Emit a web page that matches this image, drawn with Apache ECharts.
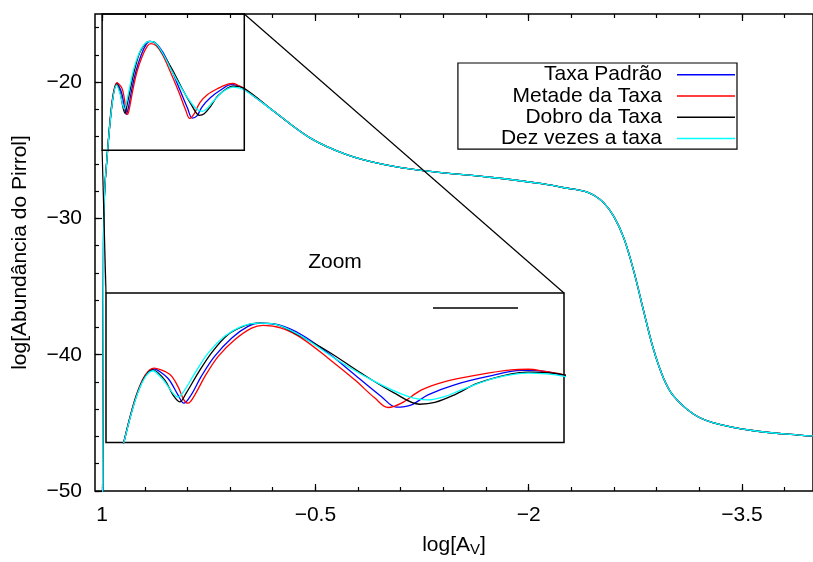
<!DOCTYPE html>
<html>
<head>
<meta charset="utf-8">
<script src="https://cdn.jsdelivr.net/npm/echarts@6/dist/echarts.min.js"></script>
<style>
  html, body { margin: 0; padding: 0; background: #fff; }
  #chart { width: 813px; height: 562px; }
</style>
</head>
<body>
<div id="chart"></div>
<script>
// Pyrrole abundance versus visual extinction, for four reaction-rate choices.
const seriesNames = ['Taxa Padrão', 'Metade da Taxa', 'Dobro da Taxa', 'Dez vezes a taxa'];

// Points are [log A_V, log abundance].
// Steep rise at the cloud edge, shared by all four runs.
const riseCommon = [[1.0, -75], [0.99, -32], [0.975, -26.8]];

// Oscillating region (0 <= log A_V <= 1), one array per run.
const padraoHead = [
  [0.895, -20.07], [0.865, -20.70], [0.843, -21.81], [0.830, -22.37], [0.814, -21.81],
  [0.792, -20.58], [0.763, -19.24], [0.726, -18.02], [0.690, -17.23], [0.664, -17.01],
  [0.624, -17.12], [0.573, -17.79], [0.515, -19.02], [0.457, -20.47], [0.399, -21.92],
  [0.366, -22.64], [0.333, -22.48], [0.297, -21.81], [0.239, -21.14], [0.166, -20.58],
  [0.093, -20.18], [0.042, -20.25], [0.0, -20.52]
];
const metadeHead = [
  [0.895, -20.03], [0.861, -20.43], [0.843, -21.25], [0.830, -22.15], [0.821, -22.37],
  [0.806, -21.81], [0.784, -20.58], [0.755, -19.24], [0.719, -18.13], [0.682, -17.35],
  [0.657, -17.17], [0.617, -17.35], [0.573, -18.02], [0.515, -19.36], [0.457, -20.81],
  [0.413, -22.03], [0.384, -22.66], [0.355, -22.37], [0.311, -21.48], [0.260, -20.92],
  [0.188, -20.47], [0.115, -20.14], [0.078, -20.10], [0.042, -20.25], [0.0, -20.47]
];
const dobroHead = [
  [0.897, -20.14], [0.872, -20.81], [0.854, -21.81], [0.839, -22.28], [0.825, -21.70],
  [0.799, -20.36], [0.770, -19.02], [0.734, -17.79], [0.697, -17.19], [0.672, -17.01],
  [0.632, -17.08], [0.588, -17.68], [0.515, -18.91], [0.443, -20.36], [0.370, -21.70],
  [0.315, -22.44], [0.282, -22.32], [0.239, -21.81], [0.188, -21.03], [0.115, -20.41],
  [0.078, -20.29], [0.0, -20.47]
];
const dezHead = [
  [0.897, -20.20], [0.875, -20.81], [0.854, -21.70], [0.843, -21.97], [0.828, -21.48],
  [0.806, -20.36], [0.777, -19.02], [0.741, -17.90], [0.704, -17.23], [0.668, -17.01],
  [0.632, -17.08], [0.573, -17.90], [0.501, -19.36], [0.420, -20.81], [0.341, -21.92],
  [0.297, -22.15], [0.260, -21.92], [0.224, -21.48], [0.151, -20.70], [0.078, -20.36],
  [0.0, -20.58]
];

// Deep-cloud part (log A_V < 0), where the four runs coincide.
const tailCommon = [
  [-0.21, -22.16], [-0.462, -24.09], [-0.715, -25.30], [-0.969, -26.02], [-1.257, -26.50],
  [-1.727, -26.98], [-2.106, -27.47], [-2.25, -27.75], [-2.39, -28.0], [-2.459, -28.3],
  [-2.529, -28.86], [-2.60, -29.87], [-2.67, -31.46], [-2.739, -33.85], [-2.809, -36.8],
  [-2.878, -39.6], [-2.948, -41.7], [-3.017, -43.0], [-3.156, -44.33], [-3.295, -44.98],
  [-3.573, -45.56], [-3.941, -45.93], [-4.0, -45.95]
];

// Axis ticks
const xMajorTicks = [1, -0.5, -2, -3.5];
const xMinorTicks = [1, 0.7, 0.4, 0.1, -0.2, -0.5, -0.8, -1.1, -1.4, -1.7, -2, -2.3, -2.6, -2.9, -3.2, -3.5, -3.8];
const yMajorTicks = [-50, -40, -30, -20];
const yMinorTicks = [-50, -48, -46, -44, -42, -40, -38, -36, -34, -32, -30, -28, -26, -24, -22, -20, -18, -16];

// Region magnified in the inset
const zoomX = [0, 1];
const zoomY = [-25, -15];

const runs = [padraoHead, metadeHead, dobroHead, dezHead];
const colors = ['#0000ff', '#ff0000', '#000000', '#00ffff'];
const FONT = 'Liberation Sans';
const minus = v => String(v).replace('-', '\u2212');

const tickAxisX = (position, ticks, len, labels) => ({
  type: 'value', gridIndex: 0, position, min: -4, max: 1.05, inverse: true,
  axisLine: { show: false, onZero: false },
  axisTick: { show: true, inside: true, length: len, customValues: ticks, lineStyle: { color: '#000', width: 1.2 } },
  axisLabel: labels ? { show: true, customValues: ticks, formatter: minus, fontSize: 21, fontFamily: FONT, color: '#000', margin: 14 } : { show: false },
  splitLine: { show: false }
});
const tickAxisY = (ticks, len, labels) => ({
  type: 'value', gridIndex: 0, position: 'left', min: -50, max: -15,
  axisLine: { show: false, onZero: false },
  axisTick: { show: true, inside: true, length: len, customValues: ticks, lineStyle: { color: '#000', width: 1.2 } },
  axisLabel: labels ? { show: true, customValues: ticks, formatter: minus, fontSize: 21, fontFamily: FONT, color: '#000', margin: 13 } : { show: false },
  splitLine: { show: false }
});

const xAxes = [
  Object.assign(tickAxisX('bottom', xMajorTicks, 7, true), {
    name: 'log[A{sub|V}]', nameLocation: 'middle', nameGap: 42, nameMoveOverlap: false,
    nameTextStyle: {
      fontSize: 21, fontFamily: FONT, color: '#000', lineHeight: 24,
      rich: { sub: { fontSize: 15, fontFamily: FONT, color: '#000', verticalAlign: 'bottom', lineHeight: 8 } }
    }
  }),
  tickAxisX('bottom', xMinorTicks, 4, false),
  tickAxisX('top', xMajorTicks, 7, false),
  tickAxisX('top', xMinorTicks, 4, false),
  { type: 'value', gridIndex: 1, min: zoomX[0], max: zoomX[1], inverse: true, show: false, axisLine: { onZero: false } }
];
const yAxes = [
  Object.assign(tickAxisY(yMajorTicks, 7, true), {
    name: 'log[Abundância do Pirrol]', nameLocation: 'middle', nameGap: 64, nameMoveOverlap: false,
    nameTextStyle: { fontSize: 21, fontFamily: FONT, color: '#000' }
  }),
  tickAxisY(yMinorTicks, 4, false),
  { type: 'value', gridIndex: 1, min: zoomY[0], max: zoomY[1], show: false, axisLine: { onZero: false } }
];

const series = [];
runs.forEach((head, i) => {
  const data = riseCommon.concat(head, tailCommon);
  const base = {
    type: 'line', name: seriesNames[i], data, showSymbol: false, symbol: 'none',
    smooth: 0.35, animation: false, z: 2 + i,
    lineStyle: { color: colors[i], width: 1.3 }, itemStyle: { color: colors[i] }
  };
  series.push(Object.assign({}, base, { xAxisIndex: 0, yAxisIndex: 0 }));
  series.push(Object.assign({}, base, { xAxisIndex: 4, yAxisIndex: 2, clip: true }));
});

const option = {
  backgroundColor: '#fff',
  animation: false,
  grid: [
    { left: 95, top: 14, width: 726, height: 484, show: true, borderColor: '#000', borderWidth: 1.5, backgroundColor: 'transparent' },
    { left: 106, top: 293, width: 458, height: 149.5, show: true, borderColor: '#000', borderWidth: 1.5, backgroundColor: '#fff' }
  ],
  xAxis: xAxes,
  yAxis: yAxes,
  legend: {
    data: seriesNames, orient: 'vertical', align: 'right', right: 76, top: 63,
    icon: 'rect', itemWidth: 58, itemHeight: 1.5, itemGap: 0,
    padding: [1, 2, 0, 43], borderColor: '#000', borderWidth: 1.2, selectedMode: false,
    textStyle: { fontSize: 21, fontFamily: FONT, color: '#000', lineHeight: 21.3, padding: [0, 10, 0, 0] }
  },
  series
};

const chart = echarts.init(document.getElementById('chart'), null, { renderer: 'canvas' });
chart.setOption(option);

// Zoom box on the main plot, its connectors to the inset, the inset title and key sample.
const mainPx = v => chart.convertToPixel({ xAxisIndex: 0, yAxisIndex: 0 }, v);
const insetPx = v => chart.convertToPixel({ xAxisIndex: 4, yAxisIndex: 2 }, v);
const boxTL = mainPx([zoomX[1], zoomY[1]]);
const boxBR = mainPx([zoomX[0], zoomY[0]]);
const insTL = insetPx([zoomX[1], zoomY[1]]);
const insTR = insetPx([zoomX[0], zoomY[1]]);
const thin = { stroke: '#000', lineWidth: 1.2 };
chart.setOption({
  graphic: [
    { type: 'rect', shape: { x: boxTL[0], y: boxTL[1], width: boxBR[0] - boxTL[0], height: boxBR[1] - boxTL[1] }, style: { fill: 'none', stroke: '#000', lineWidth: 1.5 }, z: 10 },
    { type: 'line', shape: { x1: boxBR[0], y1: boxTL[1], x2: insTR[0], y2: insTR[1] }, style: thin, z: 10 },
    { type: 'line', shape: { x1: boxTL[0], y1: boxBR[1], x2: insTL[0], y2: insTL[1] }, style: thin, z: 10 },
    { type: 'line', shape: { x1: insTR[0] - 131, y1: insTR[1] + 15, x2: insTR[0] - 46, y2: insTR[1] + 15 }, style: { stroke: '#000', lineWidth: 1.3 }, z: 10 },
    { type: 'text', x: (insTL[0] + insTR[0]) / 2, y: insTL[1] - 31, style: { text: 'Zoom', fontSize: 21, fontFamily: FONT, fill: '#000', align: 'center', verticalAlign: 'middle' }, z: 10 }
  ]
});
</script>
</body>
</html>
